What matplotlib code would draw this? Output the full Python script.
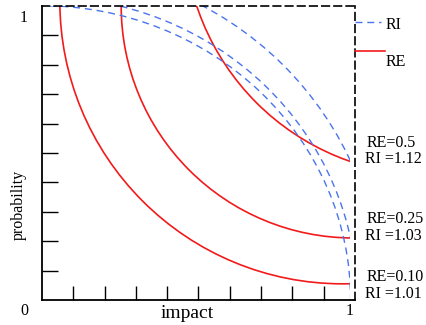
import matplotlib
matplotlib.use("Agg")
import matplotlib.pyplot as plt
from matplotlib.patches import Ellipse, Rectangle
from matplotlib.lines import Line2D

plt.rcParams['font.family'] = ['Liberation Serif', 'DejaVu Serif']

# ---- data ----
re_labels = ["RE=0.5", "RE=0.25", "RE=0.10"]
ri_labels = ["RI =1.12", "RI =1.03", "RI =1.01"]
# RE curves: circular arcs (centre, radii in data units)
re_cx = [1.243, 0.994, 0.960]
re_cy = [1.265, 1.000, 1.016]
re_rx = [0.789, 0.741, 0.903]
re_ry = [0.840, 0.789, 0.961]
# RI curves: arcs centred at the origin
ri_rx = [1.084, 1.007, 0.986]
ri_ry = [1.136, 1.032, 1.001]
x_end = 0.984
ticks = [0.1, 0.2, 0.3, 0.4, 0.5, 0.6, 0.7, 0.8, 0.9]

W, H = 426, 325
fig = plt.figure(figsize=(W / 100, H / 100), dpi=100)


def fx(px):
    return px / W


def fy(py):
    return 1 - py / H


ax = fig.add_axes([fx(42), fy(300), 313 / W, 294 / H])
ax.set_xlim(0, 1)
ax.set_ylim(0, 1)

red = '#f21a1a'
blue = '#4a74ee'

for i in range(3):
    clip = Rectangle((0, 0), x_end, 1.0, transform=ax.transData)
    e = Ellipse((re_cx[i], re_cy[i]), 2 * re_rx[i], 2 * re_ry[i], fill=False,
                edgecolor=red, linewidth=1.2)
    ax.add_patch(e)
    e.set_clip_path(clip)

    clip2 = Rectangle((0, 0), x_end, 1.0, transform=ax.transData)
    b = Ellipse((0, 0), 2 * ri_rx[i], 2 * ri_ry[i], fill=False,
                edgecolor=blue, linewidth=1.0, linestyle=(0, (5, 3.5)))
    ax.add_patch(b)
    b.set_clip_path(clip2)

# spines
for s in ['left', 'bottom']:
    ax.spines[s].set_linewidth(1.3)
    ax.spines[s].set_color('black')
for s in ['top', 'right']:
    ax.spines[s].set_linewidth(1.2)
    ax.spines[s].set_linestyle((0, (4.5, 2.8)))
    ax.spines[s].set_color('black')

ax.set_xticks(ticks)
ax.set_yticks(ticks)
ax.set_xticklabels([])
ax.set_yticklabels([])
ax.tick_params(axis='x', direction='in', length=10, width=1.0, color='black')
ax.tick_params(axis='y', direction='in', length=11.5, width=1.0, color='black')

fs = 11.5
# axis end labels
fig.text(fx(24), fy(22), "1", ha='center', va='baseline', fontsize=fs)
fig.text(fx(24), fy(315), "0", ha='center', va='baseline', fontsize=fs)
fig.text(fx(349.5), fy(315), "1", ha='center', va='baseline', fontsize=fs)
fig.text(fx(187), fy(318), "impact", ha='center', va='baseline', fontsize=14)
fig.text(fx(19), fy(205), "probability", ha='center', va='center',
         rotation=90, fontsize=fs)

# legend
fig.add_artist(Line2D([fx(355), fx(381)], [fy(21.7), fy(21.7)], color=blue,
                      linewidth=1.0, linestyle=(0, (5, 3.5))))
fig.text(fx(386), fy(29), "RI", ha='left', va='baseline', fontsize=fs)
fig.add_artist(Line2D([fx(355), fx(385)], [fy(51), fy(51)], color=red,
                      linewidth=1.2))
fig.text(fx(386), fy(66), "RE", ha='left', va='baseline', fontsize=fs)

# curve annotations
re_base = [147, 223, 281]
ri_base = [163, 240, 298]
for i in range(3):
    fig.text(fx(367), fy(re_base[i]), re_labels[i], ha='left', va='baseline', fontsize=fs)
    fig.text(fx(365), fy(ri_base[i]), ri_labels[i], ha='left', va='baseline', fontsize=fs)

fig.savefig("out.png", dpi=100)
